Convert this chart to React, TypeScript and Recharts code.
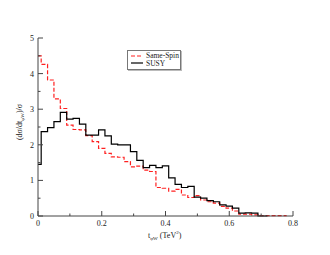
import React from "react"
import { LineChart, Line, XAxis, YAxis } from "recharts"

const tValues = [
  0, 0.02, 0.04, 0.06, 0.08, 0.1, 0.12, 0.14, 0.16, 0.18, 0.2, 0.22, 0.24, 0.26, 0.28, 0.3, 0.32, 0.34, 0.36, 0.38,
  0.4, 0.42, 0.44, 0.46, 0.48, 0.5, 0.52, 0.54, 0.56, 0.58, 0.6, 0.62, 0.64, 0.66, 0.68, 0.7, 0.72, 0.74, 0.76, 0.78,
]

const sameSpin = [
  4.5, 4.26, 3.82, 3.29, 3.02, 2.55, 2.43, 2.42, 2.26, 2.09, 1.9, 1.76, 1.66, 1.65, 1.53, 1.38, 1.4, 1.29, 1.25, 0.8,
  0.78, 0.7, 0.75, 0.59, 0.52, 0.57, 0.45, 0.4, 0.36, 0.27, 0.22, 0.14, 0.05, 0.05, 0.03, 0.01, 0.01, 0.01, 0.01, 0.01,
]

const susy = [
  1.45, 2.37, 2.48, 2.65, 2.91, 2.72, 2.74, 2.58, 2.27, 2.27, 2.42, 2.25, 2.02, 2.0, 2.0, 1.81, 1.56, 1.36, 1.42, 1.36,
  1.41, 1.07, 0.89, 0.8, 0.83, 0.53, 0.5, 0.43, 0.4, 0.31, 0.28, 0.22, 0.08, 0.09, 0.08, 0.0, 0.0,
]

const xTicks = [0, 0.1, 0.2, 0.3, 0.4, 0.5, 0.6, 0.7, 0.8]
const xLabels = ["0", "", "0.2", "", "0.4", "", "0.6", "", "0.8"]
const yTicks = [0, 0.5, 1, 1.5, 2, 2.5, 3, 3.5, 4, 4.5, 5]
const yLabels = ["0", "", "1", "", "2", "", "3", "", "4", "", "5"]

const seriesNames = ["Same-Spin", "SUSY"]

const FONT = "'Liberation Serif', 'DejaVu Serif', serif"
const AXIS = "#444"

const chartData = tValues.map((t, i) => ({
  t,
  sameSpin: sameSpin[i],
  susy: i < susy.length ? susy[i] : null,
}))

// tick marks drawn by hand so they point into the plot, long for major, short for minor
function makeTick(side: "left" | "right" | "bottom" | "top") {
  return (props: any) => {
    const { x, y, index } = props
    const labels = side === "left" || side === "right" ? yLabels : xLabels
    const label = labels[index] ?? ""
    const len = label !== "" ? 5 : 2.5
    if (side === "left") {
      return (
        <g>
          <line x1={x} x2={x + len} y1={y} y2={y} stroke={AXIS} />
          {label !== "" && (
            <text x={x - 4} y={y + 3} textAnchor="end" fontSize={8} fontFamily={FONT} fill="#222">
              {label}
            </text>
          )}
        </g>
      )
    }
    if (side === "right") {
      return <line x1={x - len} x2={x} y1={y} y2={y} stroke={AXIS} />
    }
    if (side === "top") {
      return <line x1={x} x2={x} y1={y} y2={y + len} stroke={AXIS} />
    }
    return (
      <g>
        <line x1={x} x2={x} y1={y - len} y2={y} stroke={AXIS} />
        {label !== "" && (
          <text x={x} y={y + 10} textAnchor="middle" fontSize={8} fontFamily={FONT} fill="#222">
            {label}
          </text>
        )}
      </g>
    )
  }
}

function LegendBox() {
  return (
    <div
      style={{
        position: "absolute",
        left: 127,
        top: 50,
        border: "1px solid #777",
        boxShadow: "1px 1px 0 #bbb",
        background: "#fff",
        width: 49,
        height: 17,
        padding: "1px 0 0 3px",
        fontFamily: FONT,
        fontSize: 7.5,
        lineHeight: "7.6px",
        color: "#222",
      }}
    >
      <div style={{ display: "flex", alignItems: "center" }}>
        <svg width={12} height={6} style={{ marginRight: 3 }}>
          <line x1={0} x2={12} y1={3} y2={3} stroke="#ff2020" strokeDasharray="4 2" strokeWidth={1.2} />
        </svg>
        {seriesNames[0]}
      </div>
      <div style={{ display: "flex", alignItems: "center" }}>
        <svg width={12} height={6} style={{ marginRight: 3 }}>
          <line x1={0} x2={12} y1={3} y2={3} stroke="#000" strokeWidth={1.2} />
        </svg>
        {seriesNames[1]}
      </div>
    </div>
  )
}

export default function App() {
  return (
    <div style={{ position: "absolute", left: 0, top: 0, width: 330, height: 255, background: "#fff" }}>
      <LineChart width={330} height={255} data={chartData} margin={{ top: 38, right: 37, bottom: 0, left: 0 }}>
        <XAxis
          xAxisId="bottom"
          dataKey="t"
          type="number"
          domain={[0, 0.8]}
          ticks={xTicks}
          height={39}
          tickSize={0}
          tickMargin={0}
          tickLine={false}
          axisLine={{ stroke: AXIS }}
          tick={makeTick("bottom")}
          interval={0}
        />
        <XAxis
          xAxisId="top"
          orientation="top"
          dataKey="t"
          type="number"
          domain={[0, 0.8]}
          ticks={xTicks}
          height={0}
          tickSize={0}
          tickMargin={0}
          tickLine={false}
          axisLine={{ stroke: AXIS }}
          tick={makeTick("top")}
          interval={0}
        />
        <YAxis
          yAxisId="left"
          type="number"
          domain={[0, 5]}
          ticks={yTicks}
          width={38}
          tickSize={0}
          tickMargin={0}
          tickLine={false}
          axisLine={{ stroke: AXIS }}
          tick={makeTick("left")}
          interval={0}
        />
        <YAxis
          yAxisId="right"
          orientation="right"
          type="number"
          domain={[0, 5]}
          ticks={yTicks}
          width={0}
          tickSize={0}
          tickMargin={0}
          tickLine={false}
          axisLine={{ stroke: AXIS }}
          tick={makeTick("right")}
          interval={0}
        />
        <Line
          xAxisId="bottom"
          yAxisId="left"
          type="step"
          dataKey="sameSpin"
          stroke="#ff2020"
          strokeWidth={1.2}
          strokeDasharray="4 2"
          dot={false}
          isAnimationActive={false}
        />
        <Line
          xAxisId="bottom"
          yAxisId="left"
          type="step"
          dataKey="susy"
          stroke="#000"
          strokeWidth={1.2}
          dot={false}
          isAnimationActive={false}
        />
      </LineChart>
      <LegendBox />
      <div
        style={{
          position: "absolute",
          left: 20,
          top: 122,
          transform: "translate(-50%, -50%) rotate(-90deg)",
          fontFamily: FONT,
          fontSize: 8,
          whiteSpace: "nowrap",
          color: "#222",
        }}
      >
        (dσ/dt<sub style={{ fontSize: 5 }}>φW</sub>)/σ
      </div>
      <div
        style={{
          position: "absolute",
          left: 148,
          top: 230,
          fontFamily: FONT,
          fontSize: 8,
          whiteSpace: "nowrap",
          color: "#222",
        }}
      >
        t<sub style={{ fontSize: 5 }}>φW</sub> (TeV<sup style={{ fontSize: 5 }}>2</sup>)
      </div>
    </div>
  )
}
